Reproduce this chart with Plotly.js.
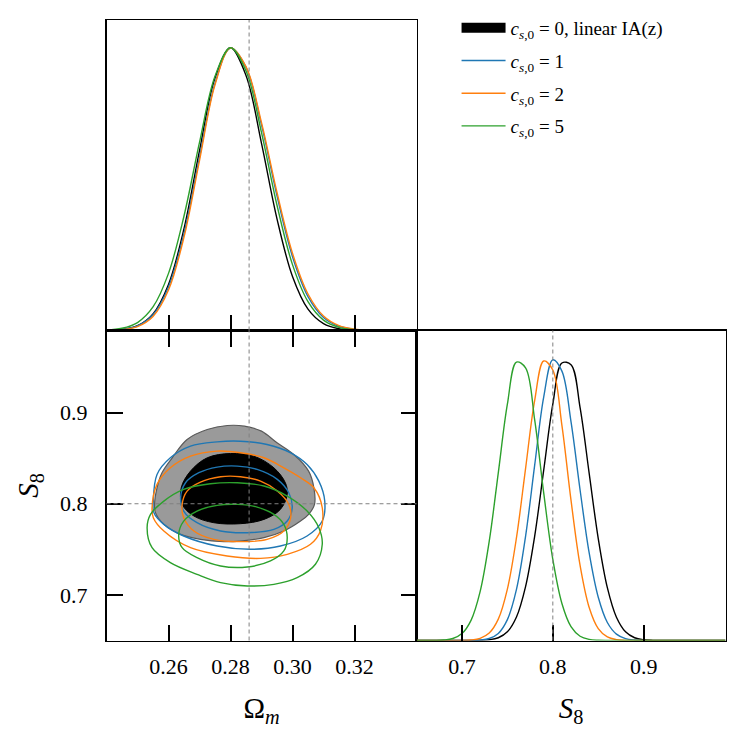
<!DOCTYPE html>
<html>
<head>
<meta charset="utf-8">
<script src="https://cdn.plot.ly/plotly-3.0.1.min.js"></script>
<style>html,body{margin:0;padding:0;background:#fff;}</style>
</head>
<body>
<div id="chart" style="width:746px;height:746px;"></div>
<script>
// ---------- 1D posterior of Omega_m (top-left panel) ----------
const omGrid = [0.240,0.245,0.250,0.255,0.260,0.265,0.270,0.275,0.280,0.285,0.290,0.295,0.300,0.305,0.310,0.315,0.320,0.325,0.330,0.335,0.340];
const omBlack  = [0.0007,0.0039,0.0169,0.0588,0.163,0.360,0.636,0.893,1.000,0.902,0.662,0.395,0.191,0.0756,0.0243,0.0063,0.0013,0.0002,0,0,0];
const omBlue   = [0.0007,0.0037,0.0159,0.0554,0.154,0.343,0.612,0.874,0.999,0.931,0.727,0.476,0.261,0.120,0.0463,0.0150,0.0041,0.0009,0.0002,0,0];
const omOrange = [0.0005,0.0030,0.0136,0.0495,0.143,0.330,0.601,0.869,0.999,0.933,0.735,0.488,0.273,0.129,0.0512,0.0172,0.0049,0.0012,0.0002,0,0];
const omGreen  = [0.0018,0.0078,0.0281,0.0832,0.202,0.405,0.665,0.899,1.000,0.918,0.700,0.443,0.233,0.102,0.0369,0.0111,0.0028,0.0006,0.0001,0,0];

// ---------- 1D posterior of S8 (bottom-right panel) ----------
const s8Grid = [0.65,0.66,0.67,0.68,0.69,0.70,0.71,0.72,0.73,0.74,0.75,0.76,0.77,0.78,0.79,0.80,0.81,0.82,0.83,0.84,0.85,0.86,0.87,0.88,0.89,0.90,0.91,0.92,0.93,0.94,0.95,0.96,0.97,0.98,0.99];
const s8Black  = [0,0,0,0,0,0,0.0001,0.0006,0.0026,0.0097,0.0309,0.0834,0.191,0.369,0.604,0.837,0.983,0.977,0.825,0.592,0.361,0.187,0.0825,0.0309,0.0098,0.0027,0.0006,0.0001,0,0,0,0,0,0,0];
const s8Blue   = [0,0,0,0,0,0,0.0003,0.0016,0.0070,0.0249,0.0739,0.181,0.369,0.620,0.863,0.994,0.954,0.775,0.533,0.310,0.153,0.0637,0.0225,0.0067,0.0017,0.0004,0.0001,0,0,0,0,0,0,0,0];
const s8Orange = [0,0,0,0,0.0001,0.0004,0.0018,0.0076,0.0263,0.0756,0.182,0.364,0.609,0.850,0.990,0.958,0.762,0.497,0.266,0.117,0.0422,0.0125,0.0030,0.0006,0.0001,0,0,0,0,0,0,0,0,0,0];
const s8Green  = [0,0.0001,0.0003,0.0017,0.0070,0.0245,0.0714,0.173,0.351,0.594,0.837,0.986,0.966,0.782,0.522,0.287,0.131,0.0490,0.0151,0.0039,0.0008,0.0001,0,0,0,0,0,0,0,0,0,0,0,0,0];

// ---------- 2D contours (bottom-left panel): [Omega_m, S8] ----------
const black95Om = [0.2555,0.2563,0.2579,0.2612,0.2660,0.2725,0.2790,0.2845,0.2900,0.2950,0.3004,0.3052,0.3069,0.3071,0.3052,0.3026,0.2972,0.2908,0.2832,0.2778,0.2703,0.2639,0.2585,0.2558];
const black95S8 = [0.7993,0.8175,0.8340,0.8504,0.8705,0.8814,0.8858,0.8851,0.8796,0.8668,0.8540,0.8358,0.8175,0.7993,0.7883,0.7810,0.7701,0.7628,0.7591,0.7584,0.7609,0.7664,0.7774,0.7901];
const black68Om = [0.2641,0.2671,0.2725,0.2800,0.2875,0.2940,0.2977,0.2983,0.2961,0.2908,0.2832,0.2746,0.2682,0.2644];
const black68S8 = [0.8175,0.8358,0.8504,0.8551,0.8522,0.8394,0.8230,0.8102,0.7938,0.7828,0.7781,0.7792,0.7865,0.7993];
const blue95Om = [0.2551,0.2563,0.2606,0.2671,0.2757,0.2832,0.2918,0.2994,0.3047,0.3085,0.3104,0.3096,0.3047,0.2961,0.2865,0.2757,0.2649,0.2585,0.2553];
const blue95S8 = [0.8029,0.8321,0.8504,0.8632,0.8679,0.8686,0.8650,0.8559,0.8431,0.8248,0.8029,0.7810,0.7646,0.7536,0.7500,0.7536,0.7646,0.7774,0.7901];
const blue68Om = [0.2639,0.2655,0.2698,0.2757,0.2822,0.2886,0.2951,0.2988,0.2999,0.2983,0.2940,0.2854,0.2768,0.2692,0.2649];
const blue68S8 = [0.8066,0.8230,0.8340,0.8402,0.8413,0.8376,0.8267,0.8120,0.7956,0.7810,0.7719,0.7682,0.7701,0.7792,0.7920];
const orange95Om = [0.2547,0.2563,0.2606,0.2671,0.2757,0.2832,0.2908,0.2972,0.3026,0.3069,0.3096,0.3090,0.3058,0.2983,0.2897,0.2789,0.2671,0.2585,0.2551];
const orange95S8 = [0.7956,0.8212,0.8394,0.8522,0.8577,0.8559,0.8504,0.8394,0.8285,0.8175,0.7956,0.7701,0.7555,0.7445,0.7401,0.7427,0.7518,0.7701,0.7847];
const orange68Om = [0.2644,0.2660,0.2703,0.2768,0.2832,0.2897,0.2951,0.2988,0.2994,0.2972,0.2918,0.2832,0.2746,0.2682,0.2649];
const orange68S8 = [0.7993,0.8139,0.8237,0.8296,0.8296,0.8248,0.8139,0.7993,0.7847,0.7701,0.7609,0.7584,0.7609,0.7701,0.7847];
const green95Om = [0.2531,0.2542,0.2585,0.2649,0.2735,0.2822,0.2908,0.2983,0.3047,0.3085,0.3096,0.3074,0.3015,0.2940,0.2854,0.2768,0.2692,0.2606,0.2547];
const green95S8 = [0.7737,0.7883,0.8029,0.8157,0.8219,0.8230,0.8194,0.8084,0.7920,0.7737,0.7555,0.7336,0.7189,0.7116,0.7098,0.7135,0.7226,0.7354,0.7518];
const green68Om = [0.2633,0.2649,0.2692,0.2757,0.2822,0.2886,0.2940,0.2972,0.2983,0.2972,0.2929,0.2854,0.2768,0.2692,0.2644];
const green68S8 = [0.7664,0.7810,0.7920,0.7982,0.7993,0.7963,0.7883,0.7774,0.7628,0.7482,0.7372,0.7306,0.7317,0.7409,0.7518];

// ---------- ticks, labels, reference values ----------
const omTicks = [0.26,0.28,0.30,0.32];
const omTickText = ['0.26','0.28','0.30','0.32'];
const s8Ticks = [0.7,0.8,0.9];
const s8TickText = ['0.7','0.8','0.9'];
const truthOm = 0.286;
const truthS8 = 0.8;
const seriesNames = ['<i>c</i><sub><i>s</i>,0</sub> = 0, linear IA(z)','<i>c</i><sub><i>s</i>,0</sub> = 1','<i>c</i><sub><i>s</i>,0</sub> = 2','<i>c</i><sub><i>s</i>,0</sub> = 5'];

const C_BLACK = '#000000', C_BLUE = '#1f77b4', C_ORANGE = '#ff7f0e', C_GREEN = '#2ca02c';
const LW = 1.4;

function closed(a){ return a.concat([a[0]]); }

const traces = [];
// 2D
traces.push({x:closed(black95Om), y:closed(black95S8), xaxis:'x2', yaxis:'y2', type:'scatter', mode:'lines',
  fill:'toself', fillcolor:'#9a9a9a', line:{color:'#5a5a5a', width:1.2, shape:'spline', smoothing:1}, showlegend:false, hoverinfo:'skip'});
traces.push({x:closed(black68Om), y:closed(black68S8), xaxis:'x2', yaxis:'y2', type:'scatter', mode:'lines',
  fill:'toself', fillcolor:'#000000', line:{color:'#000000', width:1, shape:'spline', smoothing:1}, showlegend:false});
// legend key for the filled black series (no marks of its own)
traces.push({x:[null], y:[null], xaxis:'x2', yaxis:'y2', type:'scatter', mode:'lines',
  line:{color:'#000000', width:14}, name:seriesNames[0], showlegend:true, legendrank:1, legendgroup:'g0'});
const pairs = [
  [blue95Om, blue95S8, blue68Om, blue68S8, C_BLUE, 1],
  [orange95Om, orange95S8, orange68Om, orange68S8, C_ORANGE, 2],
  [green95Om, green95S8, green68Om, green68S8, C_GREEN, 3]
];
pairs.forEach(p => {
  traces.push({x:closed(p[0]), y:closed(p[1]), xaxis:'x2', yaxis:'y2', type:'scatter', mode:'lines',
    line:{color:p[4], width:LW, shape:'spline', smoothing:1}, name:seriesNames[p[5]], showlegend:true, legendrank:p[5]+1, legendgroup:'g'+p[5]});
  traces.push({x:closed(p[2]), y:closed(p[3]), xaxis:'x2', yaxis:'y2', type:'scatter', mode:'lines',
    line:{color:p[4], width:LW, shape:'spline', smoothing:1}, showlegend:false, legendgroup:'g'+p[5]});
});
// 1D
const oneD = [[omBlack,s8Black,C_BLACK],[omBlue,s8Blue,C_BLUE],[omOrange,s8Orange,C_ORANGE],[omGreen,s8Green,C_GREEN]];
oneD.forEach(d => {
  traces.push({x:omGrid, y:d[0], xaxis:'x', yaxis:'y', type:'scatter', mode:'lines', line:{color:d[2], width:LW, shape:'spline', smoothing:1}, showlegend:false});
  traces.push({x:s8Grid, y:d[1], xaxis:'x3', yaxis:'y3', type:'scatter', mode:'lines', line:{color:d[2], width:LW, shape:'spline', smoothing:1}, showlegend:false});
});

const W = 746;
const xe = [106.5/W, 416.5/W, 725.5/W];
const ye = [(W-640.5)/W, (W-330.5)/W, (W-20)/W];
const FONT = 'Liberation Serif, Times New Roman, serif';

const axBase = {showgrid:false, zeroline:false, showline:true, linecolor:'black', linewidth:1.5,
  ticks:'inside', ticklen:16, tickwidth:2, tickcolor:'black', tickfont:{family:FONT, size:22, color:'black'}};

const dash = {color:'#808080', width:1, dash:'4px,3px'};
const layout = {
  width:W, height:W, margin:{l:0, r:0, t:0, b:0},
  paper_bgcolor:'white', plot_bgcolor:'white',
  font:{family:FONT, size:22, color:'black'},
  showlegend:true,
  legend:{x:0.612, y:0.988, xanchor:'left', yanchor:'top', bgcolor:'rgba(0,0,0,0)', borderwidth:0,
    font:{family:FONT, size:19, color:'black'}, itemwidth:44, tracegroupgap:5, traceorder:'grouped'},
  xaxis: Object.assign({}, axBase, {domain:[xe[0], xe[1]], anchor:'y', range:[0.24,0.34], tickvals:omTicks, showticklabels:false, mirror:true}),
  yaxis: Object.assign({}, axBase, {domain:[ye[1], ye[2]], anchor:'x', range:[0,1.098], ticks:'', showticklabels:false, mirror:true}),
  xaxis2: Object.assign({}, axBase, {domain:[xe[0], xe[1]], anchor:'y2', range:[0.24,0.34], tickvals:omTicks, ticktext:omTickText, mirror:'ticks', ticklabelstandoff:6,
    title:{text:'Ω<sub><i>m</i></sub>', font:{family:FONT, size:29}, standoff:19}}),
  yaxis2: Object.assign({}, axBase, {domain:[ye[0], ye[1]], anchor:'x2', range:[0.65,0.99], tickvals:s8Ticks, ticktext:s8TickText, mirror:'ticks', ticklabelstandoff:13,
    title:{text:'<i>S</i><sub>8</sub>', font:{family:FONT, size:29}, standoff:13}}),
  xaxis3: Object.assign({}, axBase, {domain:[xe[1], xe[2]], anchor:'y3', range:[0.65,0.99], tickvals:s8Ticks, ticktext:s8TickText, mirror:true, ticklabelstandoff:6,
    title:{text:'<i>S</i><sub>8</sub>', font:{family:FONT, size:29}, standoff:19}}),
  yaxis3: Object.assign({}, axBase, {domain:[ye[0], ye[1]], anchor:'x3', range:[0,1.098], ticks:'', showticklabels:false, mirror:true}),
  shapes:[
    {type:'line', xref:'x', yref:'y domain', x0:truthOm, x1:truthOm, y0:0, y1:1, line:dash, layer:'above'},
    {type:'line', xref:'x2', yref:'y2 domain', x0:truthOm, x1:truthOm, y0:0, y1:1, line:dash, layer:'above'},
    {type:'line', xref:'x2 domain', yref:'y2', x0:0, x1:1, y0:truthS8, y1:truthS8, line:dash, layer:'above'},
    {type:'line', xref:'x3', yref:'y3 domain', x0:truthS8, x1:truthS8, y0:0, y1:1, line:dash, layer:'above'}
  ]
};

Plotly.newPlot('chart', traces, layout, {staticPlot:true, displayModeBar:false});
</script>
</body>
</html>
